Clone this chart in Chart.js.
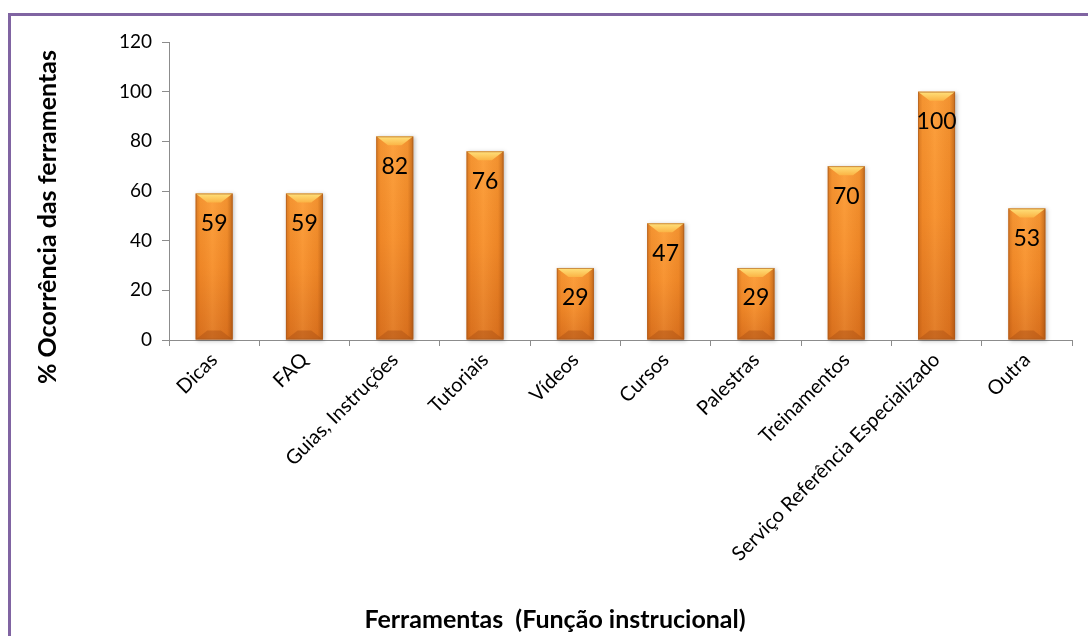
<!DOCTYPE html>
<html>
<head>
<meta charset="utf-8">
<script src="https://cdn.jsdelivr.net/npm/chart.js@4"></script>
<style>
  html, body { margin: 0; padding: 0; background: #fff; }
  #wrap { position: relative; width: 1088px; height: 636px; overflow: hidden; }
  #frame { position: absolute; left: 8px; top: 13px; width: 1200px; height: 700px;
           border-top: 3px solid #8064A2; border-left: 3px solid #8064A2; box-sizing: border-box; }
  canvas { position: absolute; left: 0; top: 0; }
</style>
</head>
<body>
<div id="wrap">
  <div id="frame"></div>
  <canvas id="c" width="1088" height="636"></canvas>
</div>
<script>
const categories = ["Dicas", "FAQ", "Guias, Instruções", "Tutoriais", "Vídeos", "Cursos", "Palestras", "Treinamentos", "Serviço Referência Especializado", "Outra"];
const values = [59, 59, 82, 76, 29, 47, 29, 70, 100, 53];
const yTicks = [0, 20, 40, 60, 80, 100, 120];
const yTitle = "% Ocorrência das ferramentas";
const xTitle = "Ferramentas  (Função instrucional)";

const FONT = "Lato, 'Open Sans', sans-serif";

const barPlugin = {
  id: 'bars3d',
  afterDatasetsDraw(chart) {
    const ctx = chart.ctx;
    const meta = chart.getDatasetMeta(0);
    meta.data.forEach((bar, i) => {
      const p = bar.getProps(['x', 'y', 'base', 'width'], true);
      const x0 = p.x - p.width / 2, x1 = p.x + p.width / 2;
      const top = p.y, bot = p.base;
      const h = bot - top, w = p.width;
      const b = Math.min(9, h / 3);
      ctx.save();
      ctx.shadowColor = 'rgba(0,0,0,0.25)';
      ctx.shadowBlur = 4;
      ctx.shadowOffsetX = 1.5;
      ctx.shadowOffsetY = 1;
      let g = ctx.createLinearGradient(0, top, 0, bot);
      g.addColorStop(0, '#FC9C36');
      g.addColorStop(0.5, '#F68D2A');
      g.addColorStop(1, '#DE7420');
      ctx.fillStyle = g;
      ctx.fillRect(x0, top, w, h);
      ctx.restore();
      ctx.save();
      let hg = ctx.createLinearGradient(x0, 0, x1, 0);
      hg.addColorStop(0, 'rgba(150,60,0,0.35)');
      hg.addColorStop(0.12, 'rgba(150,60,0,0.08)');
      hg.addColorStop(0.45, 'rgba(255,200,120,0.12)');
      hg.addColorStop(0.85, 'rgba(150,60,0,0.10)');
      hg.addColorStop(1, 'rgba(120,50,0,0.45)');
      ctx.fillStyle = hg;
      ctx.fillRect(x0, top, w, h);
      let tg = ctx.createLinearGradient(0, top, 0, top + b);
      tg.addColorStop(0, '#FFE27C');
      tg.addColorStop(1, '#FBB445');
      ctx.fillStyle = tg;
      ctx.beginPath();
      ctx.moveTo(x0, top); ctx.lineTo(x1, top);
      ctx.lineTo(x1 - b * 1.3, top + b); ctx.lineTo(x0 + b * 1.3, top + b);
      ctx.closePath(); ctx.fill();
      ctx.fillStyle = 'rgba(170,80,20,0.45)';
      ctx.beginPath();
      ctx.moveTo(x0, bot); ctx.lineTo(x1, bot);
      ctx.lineTo(x1 - b * 1.3, bot - b); ctx.lineTo(x0 + b * 1.3, bot - b);
      ctx.closePath(); ctx.fill();
      ctx.strokeStyle = 'rgba(170,90,30,0.6)';
      ctx.lineWidth = 1;
      ctx.strokeRect(x0 + 0.5, top + 0.5, w - 1, h - 1);
      ctx.fillStyle = '#000';
      ctx.font = '23px ' + FONT;
      ctx.textAlign = 'center';
      ctx.textBaseline = 'middle';
      ctx.fillText(String(values[i]), p.x, top + 30);
      ctx.restore();
    });
  }
};

const titlePlugin = {
  id: 'titles',
  afterDraw(chart) {
    const ctx = chart.ctx;
    const ca = chart.chartArea;
    ctx.save();
    ctx.fillStyle = '#000';
    ctx.font = 'bold 25px ' + FONT;
    ctx.textAlign = 'center';
    ctx.textBaseline = 'middle';
    // x-axis title
    ctx.fillText(xTitle, chart.width / 2 + 11, chart.height - 16);
    // y-axis title
    ctx.translate(48, (ca.top + ca.bottom) / 2 + 26);
    ctx.rotate(-Math.PI / 2);
    ctx.fillText(yTitle, 0, 0);
    ctx.restore();
  }
};

new Chart(document.getElementById('c'), {
  type: 'bar',
  data: {
    labels: categories,
    datasets: [{
      data: values,
      backgroundColor: 'rgba(0,0,0,0)',
      borderWidth: 0,
      categoryPercentage: 1.0,
      barPercentage: 0.41
    }]
  },
  options: {
    responsive: false,
    animation: false,
    events: [],
    layout: { padding: { top: 42, right: 16, left: 0, bottom: 0 } },
    plugins: { legend: { display: false }, tooltip: { enabled: false } },
    scales: {
      y: {
        min: 0, max: 120,
        afterBuildTicks: s => { s.ticks = yTicks.map(v => ({ value: v })); },
        afterFit: s => { s.width = 169; },
        border: { color: '#8C8C8C', width: 1 },
        grid: { drawOnChartArea: false, drawTicks: true, tickLength: 7, color: '#8C8C8C' },
        ticks: { color: '#000', font: { family: FONT, size: 19 }, padding: 10 },
        title: { display: false }
      },
      x: {
        afterFit: s => { s.height = 296; },
        border: { color: '#8C8C8C', width: 1 },
        grid: { drawOnChartArea: false, drawTicks: true, tickLength: 6, color: '#8C8C8C', offset: true },
        ticks: { color: '#000', font: { family: FONT, size: 20 }, minRotation: 45, maxRotation: 45, autoSkip: false, padding: 2 },
        title: { display: false }
      }
    }
  },
  plugins: [barPlugin, titlePlugin]
});
</script>
</body>
</html>
